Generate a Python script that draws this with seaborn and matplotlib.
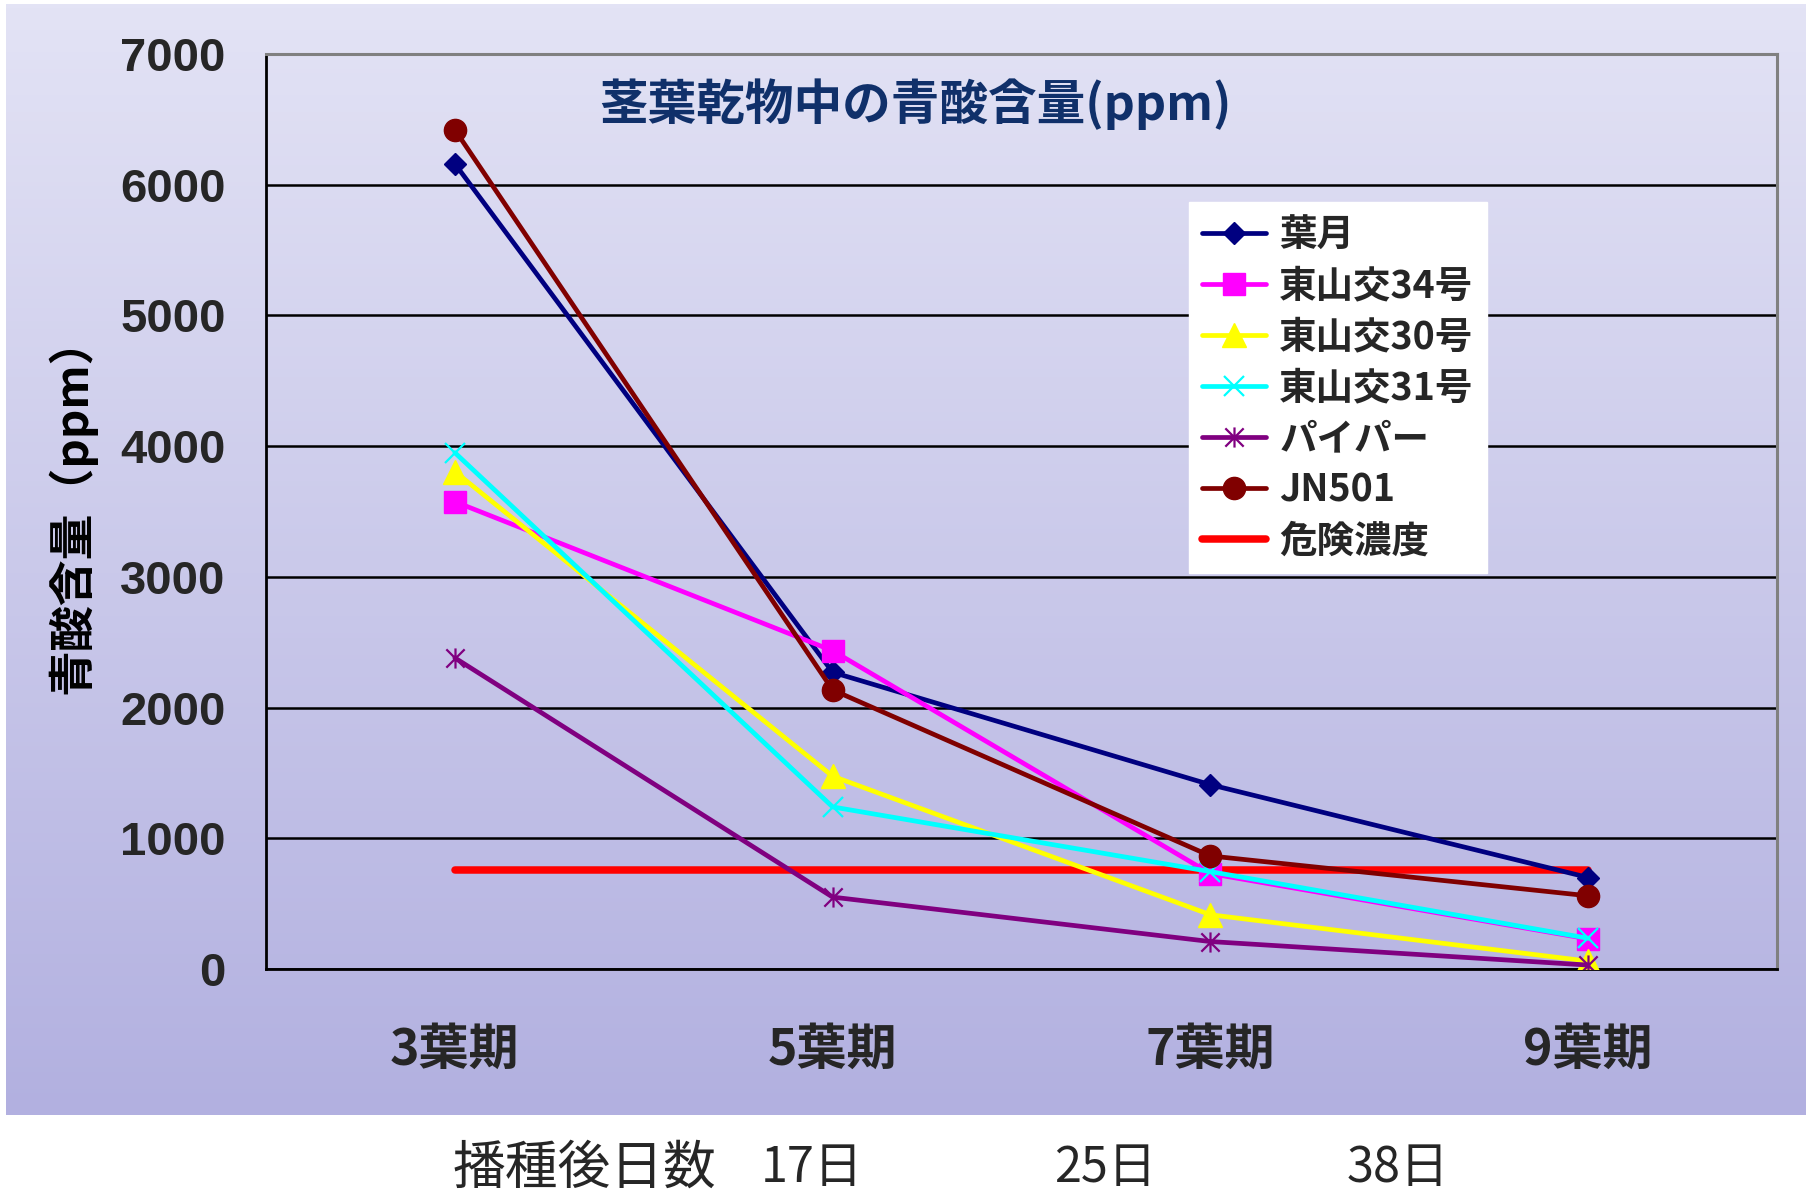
import numpy as np
import pandas as pd
import matplotlib
matplotlib.use("Agg")
import matplotlib.pyplot as plt
import seaborn as sns
from matplotlib.path import Path

# --- data -------------------------------------------------------------
stages = ["3葉期", "5葉期", "7葉期", "9葉期"]
days_caption = "播種後日数"
days_labels = ["17日", "25日", "38日"]
y_ticks = [0, 1000, 2000, 3000, 4000, 5000, 6000, 7000]

hazuki = [6160, 2270, 1410, 700]
higashiyama34 = [3575, 2435, 730, 230]
higashiyama30 = [3805, 1475, 415, 60]
higashiyama31 = [3950, 1240, 745, 235]
piper = [2380, 550, 210, 30]
jn501 = [6420, 2135, 865, 560]
danger_level = [760, 760, 760, 760]

series_names = ["葉月", "東山交34号", "東山交30号", "東山交31号", "パイパー", "JN501", "危険濃度"]
series_values = [hazuki, higashiyama34, higashiyama30, higashiyama31, piper, jn501, danger_level]

# --- style --------------------------------------------------------------
sns.set_theme(style="white")
plt.rcParams["font.family"] = ["Noto Sans CJK JP", "DejaVu Sans"]
CJK = ["Noto Sans CJK JP", "DejaVu Sans"]

# asterisk marker: an x with a vertical bar
star = Path([(-1, -1), (1, 1), (-1, 1), (1, -1), (0, -1.1), (0, 1.1)],
            [Path.MOVETO, Path.LINETO, Path.MOVETO, Path.LINETO, Path.MOVETO, Path.LINETO])

styles = {
    "葉月":       dict(color="#000080", marker="D", ms=11.5, mew=1.0, lw=3.4, z=4),
    "東山交34号": dict(color="#FF00FF", marker="s", ms=16, mew=1.0, lw=3.4, z=4),
    "東山交30号": dict(color="#FFFF00", marker="^", ms=17, mew=1.0, lw=3.4, z=4),
    "東山交31号": dict(color="#00FFFF", marker="x", ms=15, mew=1.6, lw=3.4, z=4),
    "パイパー":   dict(color="#800080", marker=star, ms=14.5, mew=1.6, lw=3.4, z=4),
    "JN501":      dict(color="#800000", marker="o", ms=16, mew=1.0, lw=3.4, z=4),
    "危険濃度":   dict(color="#FF0000", marker=None, ms=0, mew=0, lw=5.4, z=3),
}

W, H = 1813, 1192
fig = plt.figure(figsize=(W / 100, H / 100), dpi=100)
fig.patch.set_facecolor("white")

# gradient backdrop panel
bg = fig.add_axes([6 / W, 1 - 1115 / H, 1800 / W, 1111 / H], zorder=-10)
top_c = np.array([227, 227, 245]) / 255
bot_c = np.array([178, 176, 224]) / 255
t = np.linspace(0, 1, 256)[:, None]
grad = top_c[None, :] * (1 - t) + bot_c[None, :] * t
bg.imshow(grad[:, None, :].repeat(2, axis=1), aspect="auto", extent=[0, 1, 0, 1], origin="upper")
bg.set_axis_off()

left, right, top, bottom = 266, 1777, 54, 969
ax = fig.add_axes([left / W, 1 - bottom / H, (right - left) / W, (bottom - top) / H])
ax.patch.set_alpha(0)

pos = np.arange(len(stages))
for name, vals in zip(series_names, series_values):
    st = styles[name]
    kw = dict(color=st["color"], lw=st["lw"], zorder=st["z"], label=name)
    if st["marker"] is not None:
        kw.update(marker=st["marker"], markersize=st["ms"], markeredgecolor=st["color"],
                  markeredgewidth=st["mew"])
        if st["marker"] in ("x",) or st["marker"] is star:
            kw.update(markerfacecolor="none")
        else:
            kw.update(markerfacecolor=st["color"])
    sns.lineplot(x=pos, y=vals, ax=ax, **kw)

ax.set_xlim(-0.5, 3.5)
ax.set_ylim(0, 7000)
ax.set_yticks(y_ticks)
ax.set_yticklabels([str(v) for v in y_ticks], family="Liberation Sans", fontweight="bold", fontsize=34)
ax.tick_params(axis="y", direction="in", length=15, width=2, color="black", pad=29)

ax.set_xticks(np.arange(-0.5, 4.0, 1.0))
ax.set_xticklabels([])
ax.set_xticks(pos, minor=True)
ax.set_xticklabels(stages, minor=True, fontsize=36, fontweight="bold", family=CJK)
ax.tick_params(axis="x", which="major", direction="in", length=15, width=2.2, color="black")
ax.tick_params(axis="x", which="minor", length=0, pad=40)

ax.grid(axis="y", color="black", lw=1.8)
ax.grid(axis="x", visible=False)
ax.set_axisbelow(True)
ax.set_xlabel("")
ax.set_ylabel("")

for side in ("left", "bottom"):
    ax.spines[side].set_color("black")
    ax.spines[side].set_linewidth(2.0)
for side in ("top", "right"):
    ax.spines[side].set_color("#808080")
    ax.spines[side].set_linewidth(2.2)

leg = ax.legend(loc="upper left", bbox_to_anchor=(0.611, 0.838), borderaxespad=0,
                prop=dict(family=CJK, weight="bold", size=27), frameon=True,
                fancybox=False, framealpha=1, facecolor="white", edgecolor="white",
                handlelength=1.7, handletextpad=0.35, labelspacing=0.32, borderpad=0.35)

fig.text(915 / W, 1 - 104 / H, "茎葉乾物中の青酸含量(ppm)", ha="center", va="center",
         fontsize=35, fontweight="bold", color="#10306A", family=CJK)
fig.text(72 / W, 1 - 505 / H, "青酸含量（ppm）", rotation=90, ha="center", va="center",
         fontsize=33, fontweight="bold", color="black", family=CJK)

fig.text(584 / W, 1 - 1168 / H, days_caption, ha="center", va="center", fontsize=38, family=CJK)
for xc, lab in zip([812, 1105, 1398], days_labels):
    fig.text(xc / W, 1 - 1168 / H, lab, ha="center", va="center", fontsize=35, family=CJK)

fig.savefig("out.png", dpi=100)
